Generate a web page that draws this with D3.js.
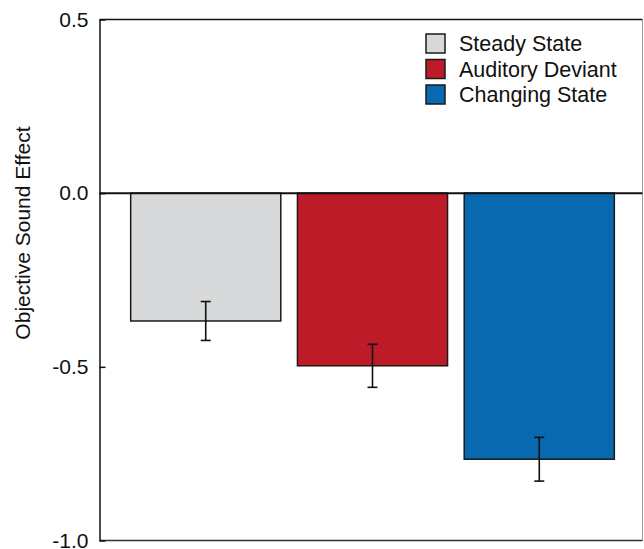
<!DOCTYPE html>
<html>
<head>
<meta charset="utf-8">
<script src="https://cdn.jsdelivr.net/npm/d3@7"></script>
<style>
  html, body { margin: 0; padding: 0; background: #fff; }
  svg { display: block; font-family: "Liberation Sans", Arial, Helvetica, sans-serif; }
</style>
</head>
<body>
<svg id="chart" width="644" height="549"></svg>
<script>
// Conditions, mean effects and standard errors
const conditions = ["Steady State", "Auditory Deviant", "Changing State"];
const means = [-0.368, -0.497, -0.766];
const errors = [0.056, 0.062, 0.063];
const colors = ["#d8d9db", "#be1b28", "#0868b0"];
const yTicks = [0.5, 0.0, -0.5, -1.0];
const yLabel = "Objective Sound Effect";

const svg = d3.select("#chart");
const plotLeft = 99.5, plotRight = 642.5, plotTop = 19.5, plotBottom = 540.5;

const x = d3.scaleBand()
  .domain(conditions)
  .range([114, 631])
  .paddingInner(0.1)
  .paddingOuter(0.1);

const y = d3.scaleLinear()
  .domain([-1.0, 0.5])
  .range([plotBottom, plotTop]);

// plot frame
svg.append("line").attr("x1", plotLeft).attr("x2", plotRight).attr("y1", plotTop).attr("y2", plotTop)
  .attr("stroke", "#111").attr("stroke-width", 1.5);
svg.append("line").attr("x1", plotRight).attr("x2", plotRight).attr("y1", plotTop).attr("y2", plotBottom)
  .attr("stroke", "#9a9a9a").attr("stroke-width", 1);
svg.append("line").attr("x1", plotLeft).attr("x2", plotRight).attr("y1", plotBottom).attr("y2", plotBottom)
  .attr("stroke", "#333").attr("stroke-width", 1.5);

// bars
svg.append("g").selectAll("rect")
  .data(conditions)
  .join("rect")
  .attr("x", d => x(d))
  .attr("width", x.bandwidth())
  .attr("y", y(0))
  .attr("height", (d, i) => y(means[i]) - y(0))
  .attr("fill", (d, i) => colors[i])
  .attr("stroke", "#1a1a1a")
  .attr("stroke-width", 1.5);

// error bars
const eb = svg.append("g").attr("stroke", "#111").attr("stroke-width", 1.6);
conditions.forEach((d, i) => {
  const cx = x(d) + x.bandwidth() / 2;
  const y1 = y(means[i] + errors[i]);
  const y2 = y(means[i] - errors[i]);
  eb.append("line").attr("x1", cx).attr("x2", cx).attr("y1", y1).attr("y2", y2);
  eb.append("line").attr("x1", cx - 5).attr("x2", cx + 5).attr("y1", y1).attr("y2", y1);
  eb.append("line").attr("x1", cx - 5).attr("x2", cx + 5).attr("y1", y2).attr("y2", y2);
});

// zero line
svg.append("line").attr("x1", plotLeft).attr("x2", plotRight).attr("y1", y(0)).attr("y2", y(0))
  .attr("stroke", "#111").attr("stroke-width", 2);

// y axis with inward ticks
const yAxis = d3.axisLeft(y)
  .tickValues(yTicks)
  .tickFormat(d => d3.format(".1f")(d).replace("−", "-"))
  .tickSizeInner(-6)
  .tickSizeOuter(0)
  .tickPadding(11);
const ag = svg.append("g").attr("transform", `translate(${plotLeft},0)`).call(yAxis);
ag.select(".domain").attr("stroke", "#111").attr("stroke-width", 1.5);
ag.selectAll(".tick line").attr("stroke", "#111").attr("stroke-width", 1.5);
ag.selectAll(".tick text")
  .attr("fill", "#111")
  .style("font-size", "21px")
  .style("font-family", "'Liberation Sans', Arial, sans-serif");

// axis title
svg.append("text")
  .attr("transform", `translate(30,233) rotate(-90)`)
  .attr("text-anchor", "middle")
  .attr("fill", "#111")
  .style("font-size", "21px")
  .text(yLabel);

// legend
const lg = svg.append("g").attr("transform", "translate(426,34)");
conditions.forEach((d, i) => {
  const row = lg.append("g").attr("transform", `translate(0,${i * 25.5})`);
  row.append("rect").attr("x", 0).attr("y", 0).attr("width", 19).attr("height", 19)
    .attr("fill", colors[i]).attr("stroke", "#1a1a1a").attr("stroke-width", 1.5);
  row.append("text").attr("x", 33).attr("y", 17)
    .attr("fill", "#111")
    .style("font-size", "21.5px")
    .text(d);
});
</script>
</body>
</html>
